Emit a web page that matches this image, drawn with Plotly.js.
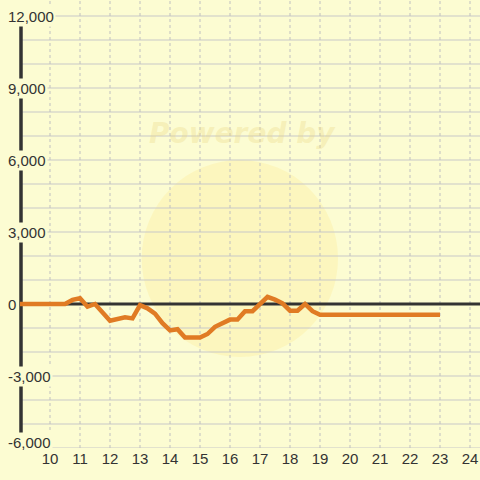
<!DOCTYPE html>
<html>
<head>
<meta charset="utf-8">
<script src="https://cdn.plot.ly/plotly-3.0.1.min.js"></script>
<style>
html,body{margin:0;padding:0;background:#fcfcd2;}
#chart{width:480px;height:480px;}
</style>
</head>
<body>
<div id="chart"></div>
<script>
// Data (hours vs value)
const hours = [9.0, 10.5, 10.75, 11.0, 11.25, 11.5, 12.0, 12.25, 12.5, 12.75, 13.0, 13.25, 13.5, 13.75, 14.0, 14.25, 14.5, 15.0, 15.25, 15.5, 15.75, 16.0, 16.25, 16.5, 16.75, 17.25, 17.5, 17.75, 18.0, 18.25, 18.5, 18.75, 19.0, 23.0];
const values = [0, 0, 170, 240, -110, 0, -700, -620, -550, -600, -50, -180, -400, -800, -1100, -1050, -1400, -1400, -1250, -950, -800, -650, -650, -300, -300, 300, 180, 30, -280, -280, 0, -300, -450, -450];

const xTickVals = [10, 11, 12, 13, 14, 15, 16, 17, 18, 19, 20, 21, 22, 23, 24];
const xTickText = ['10', '11', '12', '13', '14', '15', '16', '17', '18', '19', '20', '21', '22', '23', '24'];
const yGridVals = [-6000, -5000, -4000, -3000, -2000, -1000, 0, 1000, 2000, 3000, 4000, 5000, 6000, 7000, 8000, 9000, 10000, 11000, 12000];
const yTickVals = [-6000, -3000, 0, 3000, 6000, 9000, 12000];
const yTickText = ['-6,000', '-3,000', '0', '3,000', '6,000', '9,000', '12,000'];
const watermarkText = 'Powered by';

const BG = '#fcfcd2';
const TEXT = '#333333';
const FONT = 'Liberation Sans, Arial, sans-serif';
const AXIS_X = 21 / 480;

const trace = {
  x: hours,
  y: values,
  type: 'scatter',
  mode: 'lines',
  line: {color: '#e07b24', width: 4.5},
  hoverinfo: 'skip'
};

const annotations = yTickVals.map((v, i) => ({
  xref: 'paper', yref: 'y',
  x: 6 / 480, y: v,
  xanchor: 'left', yanchor: 'middle',
  text: yTickText[i],
  showarrow: false,
  font: {family: FONT, size: 15, color: TEXT},
  bgcolor: BG,
  borderpad: 1,
  yshift: i === 0 ? 6 : 0
}));

annotations.push({
  xref: 'paper', yref: 'paper',
  x: 242 / 480, y: (448 - 133) / 448,
  xanchor: 'center', yanchor: 'middle',
  text: '<b><i>' + watermarkText + '</i></b>',
  showarrow: false,
  font: {family: 'DejaVu Sans, sans-serif', size: 28, color: 'rgba(235,215,130,0.33)'}
});

const shapes = [];
// watermark disc
shapes.push({type: 'circle', xref: 'paper', yref: 'paper', layer: 'below',
  x0: 141.7 / 480, x1: 338 / 480, y0: (448 - 357) / 448, y1: (448 - 160) / 448,
  fillcolor: 'rgba(255,228,120,0.22)', line: {width: 0}});
// horizontal grid lines (from the axis to the right edge)
yGridVals.forEach(v => shapes.push({type: 'line', xref: 'paper', yref: 'y', layer: 'below',
  x0: AXIS_X, x1: 1, y0: v, y1: v, line: {color: '#c8c8c8', width: 1}}));
// vertical dotted grid lines
xTickVals.forEach(v => shapes.push({type: 'line', xref: 'x', yref: 'paper', layer: 'below',
  x0: v, x1: v, y0: 0, y1: 1, line: {color: '#c0c0c0', width: 1, dash: 'dot'}}));
// zero line
shapes.push({type: 'line', xref: 'paper', yref: 'y', layer: 'below',
  x0: AXIS_X, x1: 1, y0: 0, y1: 0, line: {color: TEXT, width: 3}});
// y axis line
shapes.push({type: 'line', xref: 'paper', yref: 'y', layer: 'below',
  x0: AXIS_X, x1: AXIS_X, y0: yTickVals[0], y1: yTickVals[yTickVals.length - 1],
  line: {color: TEXT, width: 3.5}});

const layout = {
  width: 480, height: 480,
  margin: {l: 0, r: 0, t: 0, b: 32, pad: 0},
  paper_bgcolor: BG,
  plot_bgcolor: BG,
  showlegend: false,
  font: {family: FONT, size: 15, color: TEXT},
  xaxis: {
    range: [8.3333, 24.3333],
    tickmode: 'array', tickvals: xTickVals, ticktext: xTickText,
    showgrid: false, zeroline: false, showline: false, ticks: '',
    tickfont: {family: FONT, size: 15, color: TEXT},
    fixedrange: true
  },
  yaxis: {
    range: [-6000, 12666.7],
    showticklabels: false,
    showgrid: false, zeroline: false, showline: false, ticks: '',
    fixedrange: true
  },
  annotations: annotations,
  shapes: shapes
};

Plotly.newPlot('chart', [trace], layout, {staticPlot: true, displayModeBar: false});
</script>
</body>
</html>
